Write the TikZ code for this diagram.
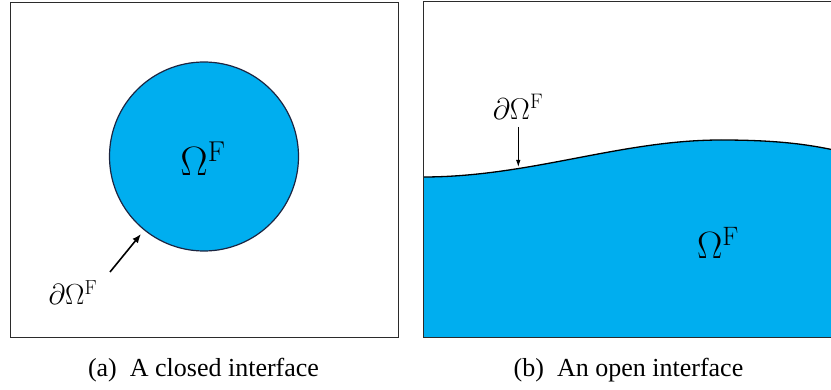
\RequirePackage{fix-cm}
\documentclass[tikz,border=0pt]{standalone}
\usepackage[no-math]{fontspec}
\setmainfont{Liberation Serif}
\usetikzlibrary{arrows.meta}
\definecolor{fluid}{HTML}{00AEEF}
\definecolor{rim}{HTML}{1C2541}
\definecolor{frame}{HTML}{2B2B2B}
\tikzset{
  panel/.style={draw=frame,line width=1.3pt},
  bigmath/.style={inner sep=0pt,anchor=base,font=\fontsize{41}{44}\selectfont},
  midmath/.style={inner sep=0pt,anchor=base,font=\fontsize{29}{32}\selectfont},
  captext/.style={inner sep=0pt,anchor=base,font=\fontsize{26}{30}\selectfont},
  pointer/.style={line width=1.6pt,-{Latex[length=9pt,width=7pt]}},
  thinpointer/.style={line width=0.9pt,-{Latex[length=7pt,width=4.5pt]}}
}
\begin{document}
\begin{tikzpicture}[x=1pt,y=-1pt]
\useasboundingbox (0,0) rectangle (831,390);
\clip (0,0) rectangle (831,390);
% panel (a)
\node[panel,minimum width=388.5pt,minimum height=335.3pt,inner sep=0pt,anchor=north west] (boxA) at (9.5,1.7) {};
\node[circle,draw=rim,line width=1.2pt,fill=fluid,minimum size=189pt,inner sep=0pt] (drop) at (204,156.5) {};
\node[bigmath] (omA) at (203,176) {$\Omega^{\mathrm{F}}$};
\node[midmath] (dA) at (73,305) {$\partial\Omega^{\mathrm{F}}$};
\coordinate (sA) at (110,272);
\coordinate (tA) at (141,234);
\draw[pointer] (sA) -- (tA);
\node[captext] (capA) at (203.5,377) {(a)\enspace A closed interface};
% panel (b)
\coordinate (w0) at (423,177);
\coordinate (w1) at (721,140);
\coordinate (w2) at (834,150);
\fill[fluid] (w0) .. controls (530,177) and (620,140) .. (w1) .. controls (780,140) and (810,145) .. (w2) -- (834,337) -- (423,337) -- cycle;
\draw[line width=1.3pt] (w0) .. controls (530,177) and (620,140) .. (w1) .. controls (780,140) and (810,145) .. (w2);
\node[panel,minimum width=415pt,minimum height=336.3pt,inner sep=0pt,anchor=north west] (boxB) at (423,0.7) {};
\node[midmath,font=\fontsize{30}{33}\selectfont] (dB) at (518,119.3) {$\partial\Omega^{\mathrm{F}}$};
\coordinate (sB) at (518.3,127);
\coordinate (tB) at (518.3,167);
\draw[thinpointer] (sB) -- (tB);
\node[bigmath,font=\fontsize{38}{40}\selectfont] (omB) at (718,259) {$\Omega^{\mathrm{F}}$};
\node[captext] (capB) at (628.5,377) {(b)\enspace An open interface};
\end{tikzpicture}
\end{document}
